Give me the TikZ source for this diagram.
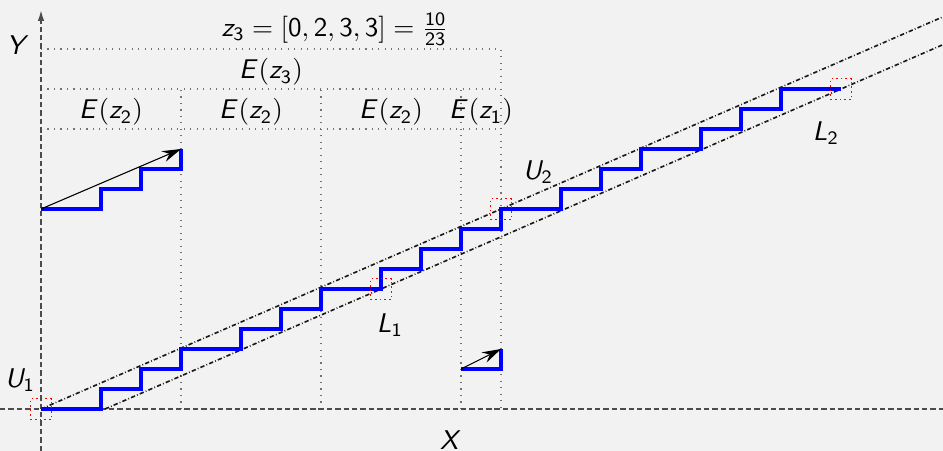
\documentclass[tikz,border=0pt]{standalone}
\usepackage{tikz}
\usetikzlibrary{positioning,arrows.meta,calc}
% sans serif math letters and digits
\DeclareSymbolFont{sfslant}{OT1}{cmss}{m}{sl}
\DeclareSymbolFont{sfup}{OT1}{cmss}{m}{n}
\DeclareMathSymbol{E}{\mathalpha}{sfslant}{`E}
\DeclareMathSymbol{L}{\mathalpha}{sfslant}{`L}
\DeclareMathSymbol{U}{\mathalpha}{sfslant}{`U}
\DeclareMathSymbol{X}{\mathalpha}{sfslant}{`X}
\DeclareMathSymbol{Y}{\mathalpha}{sfslant}{`Y}
\DeclareMathSymbol{z}{\mathalpha}{sfslant}{`z}
\DeclareMathSymbol{0}{\mathalpha}{sfup}{`0}
\DeclareMathSymbol{1}{\mathalpha}{sfup}{`1}
\DeclareMathSymbol{2}{\mathalpha}{sfup}{`2}
\DeclareMathSymbol{3}{\mathalpha}{sfup}{`3}
\definecolor{bgpanel}{RGB}{242,242,242}
\tikzset{
  axisline/.style={draw=black!70, line width=0.6pt, dash pattern=on 2pt off 1.1pt},
  gridline/.style={draw=black!55, line width=0.4pt, dotted},
  diagline/.style={draw=black!90, line width=0.6pt,
    dash pattern=on 1.6pt off 0.8pt on 0.3pt off 0.8pt},
  stair/.style={draw=blue, line width=1.3pt},
  inset/.style={draw=black, line width=0.4pt,
    -{Stealth[length=7pt,width=4.2pt,inset=2.4pt]}},
  markbox/.style={draw=red, line width=0.6pt, dash pattern=on 0.6pt off 1.1pt,
    minimum size=0.27cm, inner sep=0pt},
  lbl/.style={above, inner sep=1pt}
}

\begin{document}
\begin{tikzpicture}[x=0.26cm, y=0.26cm]
    \fill[bgpanel] (-2.05,-2.1) rectangle (45.1,20.45);
    \useasboundingbox (-2.05,-2.1) rectangle (45.1,20.45);

    \coordinate (u1) at (0,0);
    \coordinate (u2) at (23,10);
    \coordinate (l1) at (17,6);
    \coordinate (l2) at (40,16);
    \coordinate (ybot) at (0,-2.1);
    \coordinate (ytop) at (0,19.95);
    \coordinate (xl) at (-2.05,0);
    \coordinate (xr) at (45.1,0);

    % blocks E(z_3), E(z_2), E(z_1)
    \draw[gridline] (0,18) -- (23,18) -- (23,0);
    \draw[gridline] (0,16) -- (23,16);
    \draw[gridline] (0,14) -- (23,14);
    \foreach \x in {7,14,21}
      \draw[gridline] (\x,0) -- (\x,16);

    \draw[axisline] (xl) -- (xr);
    \draw[axisline,-{Latex[length=4pt,width=2.4pt]}] (ybot) -- (ytop);

    \draw[diagline] (u1) -- ($(u1)!1.961!(u2)$);
    \draw[diagline] ($(l1)!-0.6!(l2)$) -- ($(l1)!1.222!(l2)$);

    % staircase
    \draw[stair] (u1)
      foreach \k in {1,2,3} { -- ++(3,0) -- ++(0,1) -- ++(2,0) -- ++(0,1) -- ++(2,0) -- ++(0,1) }
      -- ++(2,0) -- ++(0,1)
      foreach \k in {1,2} { -- ++(3,0) -- ++(0,1) -- ++(2,0) -- ++(0,1) -- ++(2,0) -- ++(0,1) }
      -- ++(3,0);

    % small copies
    \coordinate (e2a) at (0,10);
    \coordinate (e2b) at (7,13);
    \coordinate (e1a) at (21,2);
    \coordinate (e1b) at (23,3);
    \draw[stair] (e2a) -- ++(3,0) -- ++(0,1) -- ++(2,0) -- ++(0,1) -- ++(2,0) -- (e2b);
    \draw[inset] (e2a) -- (e2b);
    \draw[stair] (e1a) -- ++(2,0) -- (e1b);
    \draw[inset] (e1a) -- (e1b);

    \foreach \p in {u1,u2,l1,l2}
      \node[markbox] (box-\p) at (\p) {};

    \node[lbl] (title) at (14.7,18) {$z_3 = [0,2,3,3] = \frac{10}{23}$};
    \node[lbl] (ez3) at (11.5,16) {$E(z_3)$};
    \foreach \x [count=\i] in {3.5,10.5,17.5}
      \node[lbl] (ez2-\i) at (\x,14) {$E(z_2)$};
    \node[lbl] (ez1) at (22,14) {$E(z_1)$};

    \node (ylbl) at (-1.15,18.2) {$Y$};
    \node (xlbl) at (20.5,-1.55) {$X$};
    \node (lu1) at ($(u1)+(-1.05,1.45)$) {$U_1$};
    \node (lu2) at ($(u2)+(1.85,1.85)$) {$U_2$};
    \node (ll1) at ($(l1)+(0.45,-1.8)$) {$L_1$};
    \node (ll2) at ($(l2)+(-0.75,-2.2)$) {$L_2$};
  \end{tikzpicture}
\end{document}
